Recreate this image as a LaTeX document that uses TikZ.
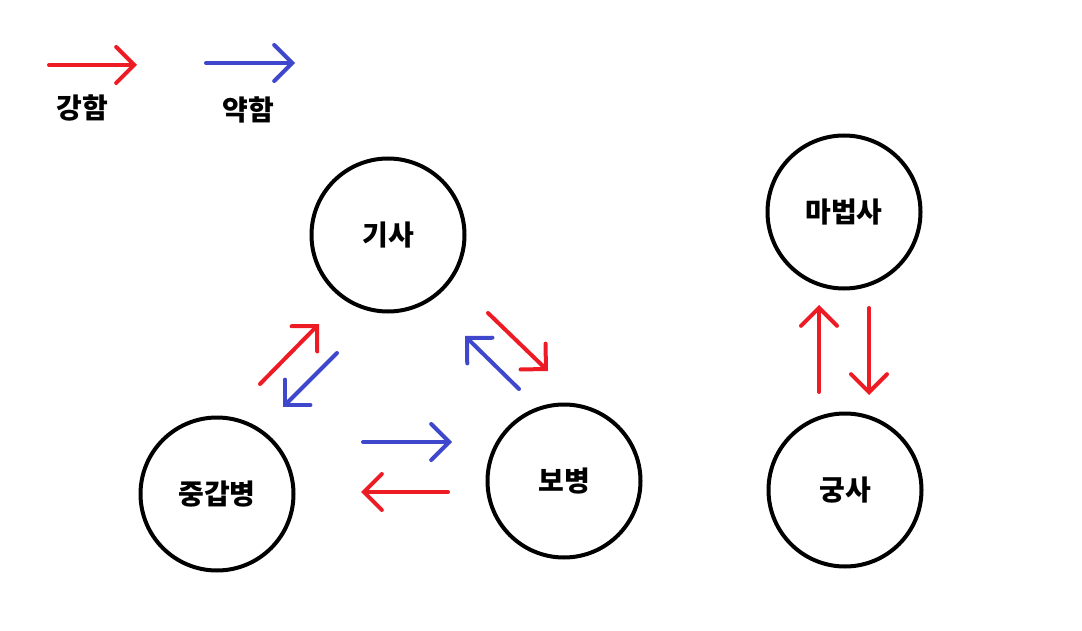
\documentclass[tikz,border=0pt]{standalone}
\usepackage{fontspec}
\newfontfamily\kr{Noto Sans CJK KR}
\usetikzlibrary{arrows.meta, positioning}
\definecolor{paintred}{RGB}{237,28,36}
\definecolor{paintblue}{RGB}{63,72,204}
\tikzstyle{unit} = [circle, minimum size=153pt, line width=4pt, draw=black, fill=white, font=\kr\bfseries\fontsize{28}{32}\selectfont]
\tikzstyle{legendtext} = [font=\kr\bfseries\fontsize{28}{32}\selectfont]
\tikzstyle{strong} = [line width=4pt, line cap=round, draw=paintred, -{Straight Barb[length=18pt,width=36pt,line cap=round]}]
\tikzstyle{weak} = [line width=4pt, line cap=round, draw=paintblue, -{Straight Barb[length=18pt,width=36pt,line cap=round]}]

\begin{document}
\begin{tikzpicture}[x=1pt, y=-1pt]
		\useasboundingbox (0,0) rectangle (1082,631);
		% legend
		\coordinate (sa) at (49,65);
		\coordinate (sb) at (137,65);
		\coordinate (wa) at (206,63);
		\coordinate (wb) at (295,63);
		\draw [strong] (sa) -- (sb);
		\draw [weak] (wa) -- (wb);
		\node (strongtxt) [legendtext] at (82,108) {강함};
		\node (weaktxt) [legendtext] at (248,110) {약함};

		% units
		\node (knight) [unit] at (388,235) {기사};
		\node (heavy) [unit] at (217,494) {중갑병};
		\node (infantry) [unit] at (564,481) {보병};
		\node (mage) [unit] at (844,212) {마법사};
		\node (archer) [unit] at (845,490) {궁사};

		% arrow ends
		\coordinate (hk1) at (260,384);
		\coordinate (hk2) at (319,324);
		\coordinate (kh1) at (337,353);
		\coordinate (kh2) at (283,407);
		\coordinate (ki1) at (488,313);
		\coordinate (ki2) at (548,371);
		\coordinate (ik1) at (519,389);
		\coordinate (ik2) at (465,336);
		\coordinate (hi1) at (363,442);
		\coordinate (hi2) at (452,442);
		\coordinate (ih1) at (448,492);
		\coordinate (ih2) at (361,492);
		\coordinate (am1) at (819,392);
		\coordinate (am2) at (819,305);
		\coordinate (ma1) at (869,308);
		\coordinate (ma2) at (869,395);

		\draw [strong] (hk1) -- (hk2);
		\draw [weak] (kh1) -- (kh2);
		\draw [strong] (ki1) -- (ki2);
		\draw [weak] (ik1) -- (ik2);
		\draw [weak] (hi1) -- (hi2);
		\draw [strong] (ih1) -- (ih2);
		\draw [strong] (am1) -- (am2);
		\draw [strong] (ma1) -- (ma2);
	  \end{tikzpicture}
\end{document}
